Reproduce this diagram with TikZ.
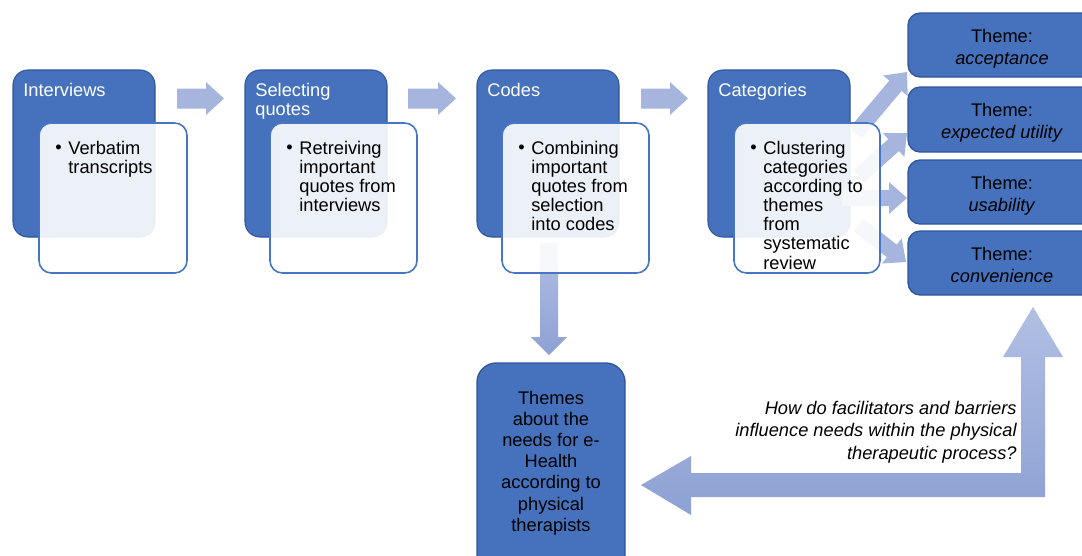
\documentclass[tikz,border=0pt]{standalone}
\usepackage{fontspec}
\setmainfont{Liberation Sans}
\usetikzlibrary{fit}
\definecolor{dkfill}{RGB}{70,114,189}
\definecolor{dkline}{RGB}{48,86,156}
\definecolor{ltline}{RGB}{72,116,196}
\definecolor{arr}{RGB}{166,181,222}
\definecolor{arrtop}{RGB}{178,191,228}
\definecolor{arrbot}{RGB}{141,161,211}
\newcommand\fanarrow[4]{% tip x, tip y, angle, length
  \fill[arr, shift={(#1,#2)}, rotate=#3] (-#4,-8) -- (-18,-8) -- (-18,-16) -- (0,0) -- (-18,16) -- (-18,8) -- (-#4,8) -- cycle;}
\newcommand\harrow[2]{% start x, tip x
  \fill[arr] (#1,88.5) -- ({#2-18},88.5) -- ({#2-18},82) -- (#2,98.5) -- ({#2-18},115) -- ({#2-18},108.5) -- (#1,108.5) -- cycle;}
\tikzset{
  darkbox/.style={draw=dkline, line width=0.6pt, fill=dkfill, rounded corners=8.5pt, inner sep=0pt},
  lightbox/.style={draw=ltline, line width=0.9pt, fill=white, fill opacity=0.9, rounded corners=7pt, inner sep=0pt},
  themebox/.style={draw=dkline, line width=0.8pt, fill=dkfill, rounded corners=7pt, inner sep=0pt},
  themetext/.style={anchor=north, inner sep=0pt, align=center, font=\fontsize{10.4}{12.5}\selectfont},
  hdr/.style={anchor=north west, inner sep=0pt, text=white, align=left, font=\fontsize{10.4}{10.9}\selectfont},
  bul/.style={anchor=north west, inner sep=0pt, align=left, font=\fontsize{10.4}{10.9}\selectfont},
  dot/.style={anchor=base west, inner sep=0pt, font=\fontsize{10.4}{10.9}\selectfont},
}
\begin{document}
\begin{tikzpicture}[x=0.02cm, y=-0.02cm]
\useasboundingbox (0,0) rectangle (1082,555);
\clip (0,0) rectangle (1082,555);
% dark boxes
\node[darkbox, fit={(13,70) (155,237)}] (d1) {};
\node[darkbox, fit={(245,70) (387,237)}] (d2) {};
\node[darkbox, fit={(477,70) (619,237)}] (d3) {};
\node[darkbox, fit={(708,70) (850,237)}] (d4) {};
% arrows between steps
\harrow{177}{224}
\harrow{408}{456}
\harrow{641}{688}
% fan arrows
\fanarrow{907}{72}{50}{80}
\fanarrow{907}{133}{42}{65}
\fanarrow{907}{198}{0}{65}
\fanarrow{906}{262}{-38}{60}
% down arrow
\shade[top color=arrtop, bottom color=arrbot] (540,243) -- (558,243) -- (558,337) -- (567,337) -- (549,355) -- (531,337) -- (540,337) -- cycle;
% light boxes
\node[lightbox, fit={(39,123) (187,273)}] (l1) {};
\node[lightbox, fit={(270,123) (417,273)}] (l2) {};
\node[lightbox, fit={(502,123) (649,273)}] (l3) {};
\node[lightbox, fit={(734,123) (880,273)}] (l4) {};
% headers
\node[hdr] (h1) at (23,82.5) {Interviews};
\node[hdr] (h2) at (255,82.5) {Selecting\\quotes};
\node[hdr] (h3) at (487,82.5) {Codes};
\node[hdr] (h4) at (718,82.5) {Categories};
% bullets
\node[dot] (b1) at (55,153.6) {\textbullet};
\node[dot] (b2) at (286,153.6) {\textbullet};
\node[dot] (b3) at (518,153.6) {\textbullet};
\node[dot] (b4) at (750,153.6) {\textbullet};
\node[bul] (t1) at (68,140.5) {Verbatim\\transcripts};
\node[bul] (t2) at (299,140.5) {Retreiving\\important\\quotes from\\interviews};
\node[bul] (t3) at (531,140.5) {Combining\\important\\quotes from\\selection\\into codes};
\node[bul] (t4) at (763,140.5) {Clustering\\categories\\according to\\themes\\from\\systematic\\review};
% theme boxes
\node[themebox, fit={(908,13) (1096,77)}] (th1) {};
\node[themebox, fit={(908,87) (1096,152)}] (th2) {};
\node[themebox, fit={(908,160) (1096,224)}] (th3) {};
\node[themebox, fit={(908,231) (1096,295)}] (th4) {};
\node[themetext] (tt1) at (1002,28.5) {Theme:\\\textit{acceptance}};
\node[themetext] (tt2) at (1002,102.5) {Theme:\\\textit{expected utility}};
\node[themetext] (tt3) at (1002,175.5) {Theme:\\\textit{usability}};
\node[themetext] (tt4) at (1002,246.5) {Theme:\\\textit{convenience}};
% bent arrow
\shade[top color=arrtop, bottom color=arrbot] (641,485) -- (691,456) -- (691,473) -- (1021,473) -- (1021,357) -- (1003,357) -- (1033,307) -- (1063,357) -- (1045,357) -- (1045,497) -- (691,497) -- (691,515) -- cycle;
\node[anchor=north east, inner sep=0pt, align=right, font=\fontsize{10.4}{12.7}\selectfont\itshape] (q) at (1017,401) {How do facilitators and barriers\\influence needs within the physical\\therapeutic process?};
% result box
\node[darkbox, rounded corners=11pt, line width=0.8pt, fit={(477,363) (625,580)}] (res) {};
\node[anchor=north, inner sep=0pt, align=center, font=\fontsize{10.4}{12}\selectfont] (rt) at (551,391) {Themes\\about the\\needs for e-\\Health\\according to\\physical\\therapists};
\end{tikzpicture}
\end{document}
